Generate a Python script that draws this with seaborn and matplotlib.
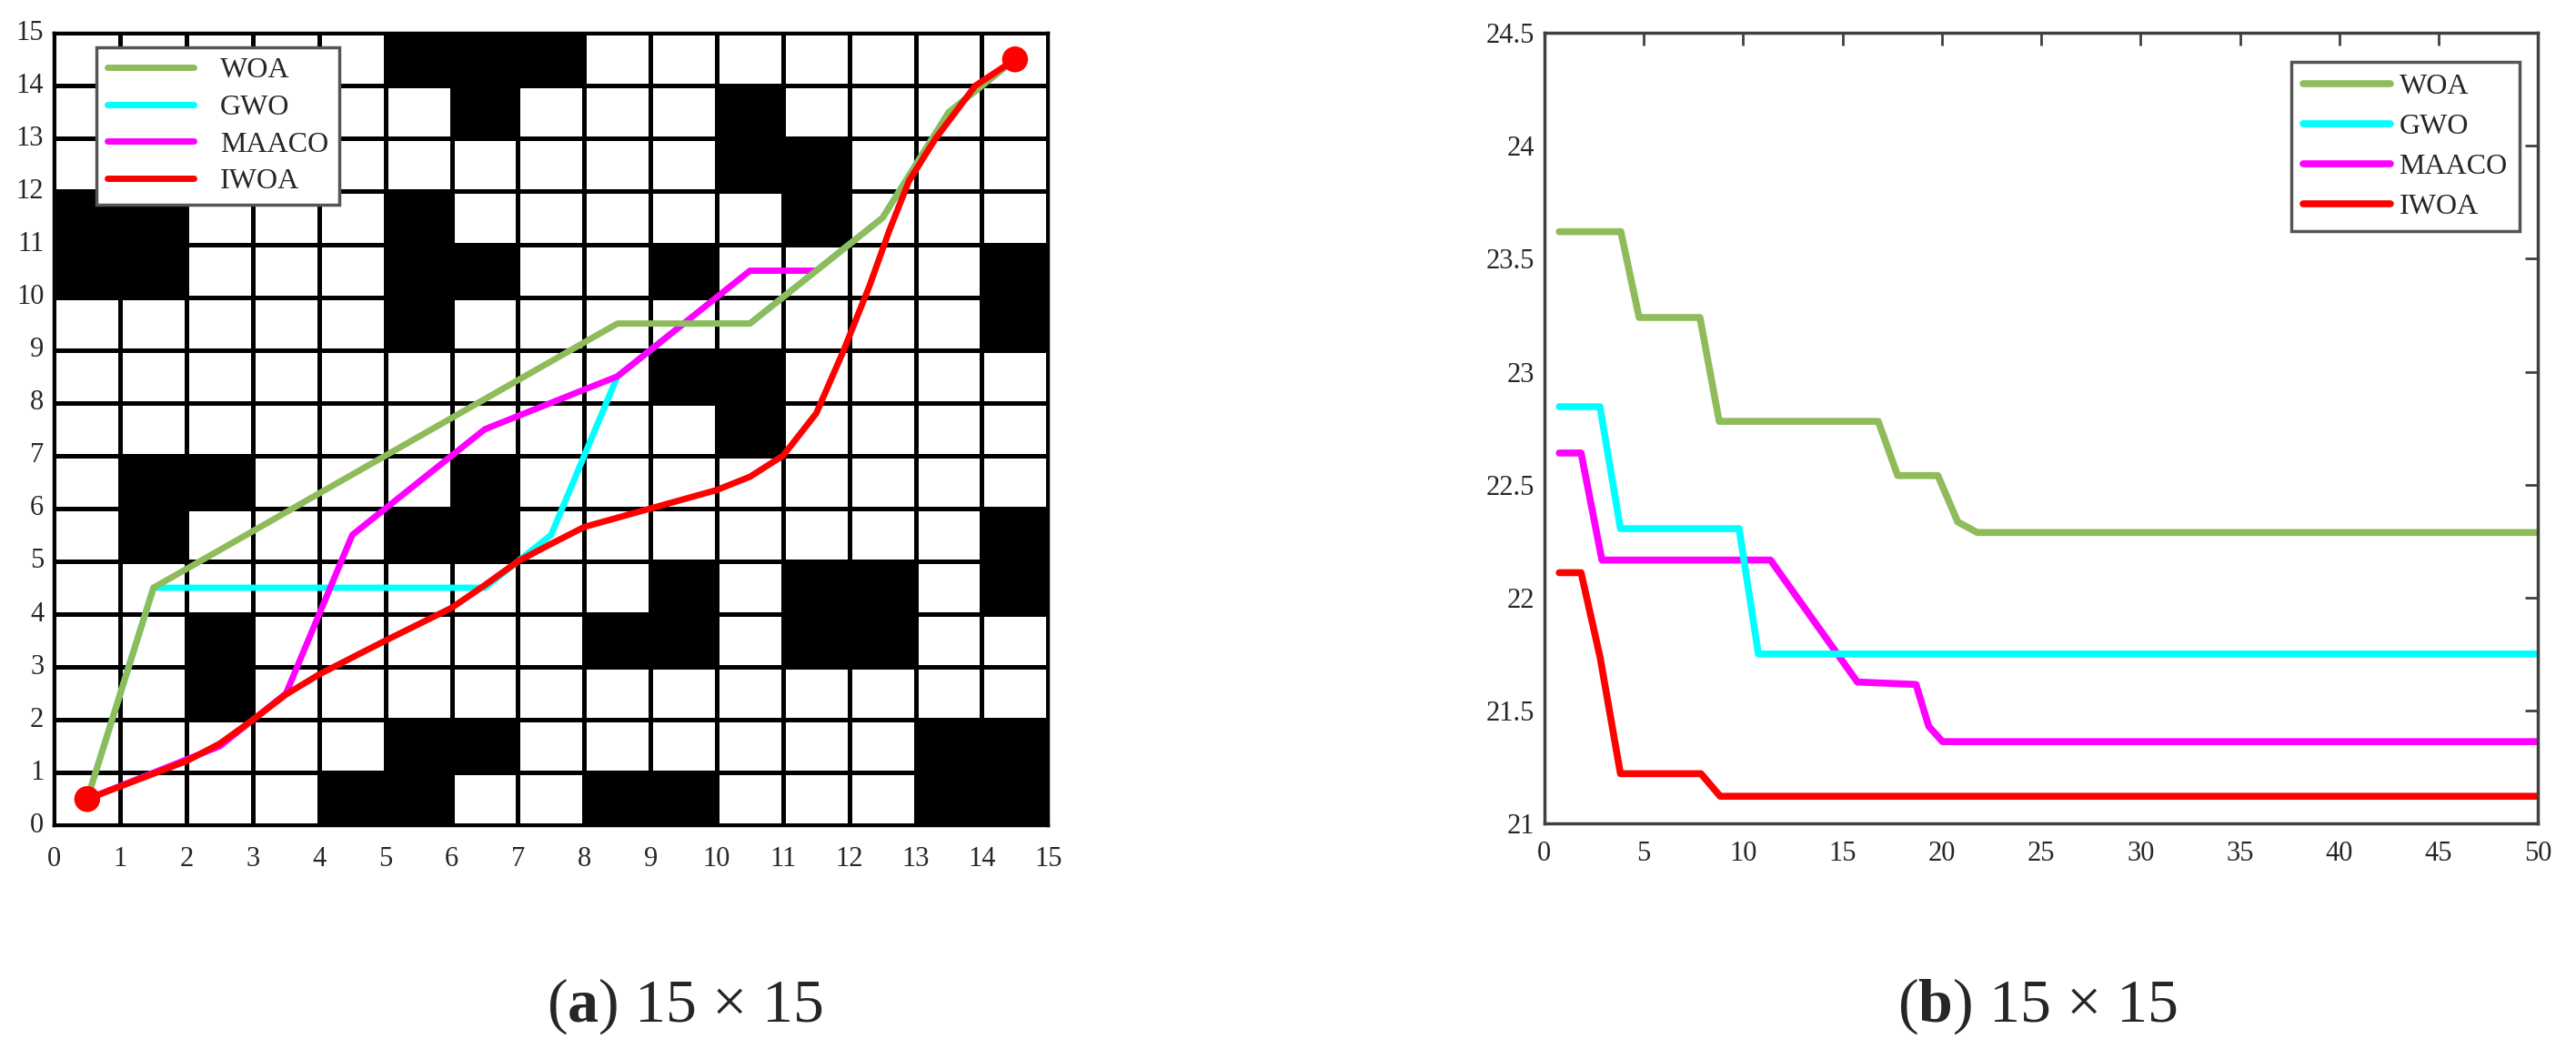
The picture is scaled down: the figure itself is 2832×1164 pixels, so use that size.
import numpy as np
import matplotlib
matplotlib.use("Agg")
import matplotlib.pyplot as plt
from matplotlib.colors import ListedColormap
import seaborn as sns

# ---- (a) 15x15 grid map: black cells as (col, row), row 0 at bottom
obstacles = [
    (5, 14), (6, 14), (7, 14),
    (6, 13), (10, 13),
    (10, 12), (11, 12),
    (0, 11), (1, 11), (5, 11), (11, 11),
    (0, 10), (1, 10), (5, 10), (6, 10), (9, 10), (14, 10),
    (5, 9), (14, 9),
    (9, 8), (10, 8),
    (10, 7),
    (1, 6), (2, 6), (6, 6),
    (1, 5), (5, 5), (6, 5), (14, 5),
    (9, 4), (11, 4), (12, 4), (14, 4),
    (2, 3), (8, 3), (9, 3), (11, 3), (12, 3),
    (2, 2),
    (5, 1), (6, 1), (13, 1), (14, 1),
    (4, 0), (5, 0), (8, 0), (9, 0), (13, 0), (14, 0),
]

woa_path_x = [0.5, 1.5, 8.5, 10.5, 12.5, 13.5, 14.5]
woa_path_y = [0.5, 4.5, 9.5, 9.5, 11.5, 13.5, 14.5]
gwo_path_x = [0.5, 1.5, 6.5, 7.5, 8.5, 9.5, 10.5, 11.5, 12.5, 13.5, 14.5]
gwo_path_y = [0.5, 4.5, 4.5, 5.5, 8.5, 9.5, 9.5, 10.5, 11.5, 13.5, 14.5]
maaco_path_x = [0.5, 2.5, 3.5, 4.5, 6.5, 8.5, 10.5, 11.5]
maaco_path_y = [0.5, 1.5, 2.5, 5.5, 7.5, 8.5, 10.5, 10.5]
iwoa_path_x = [0.5, 1, 2, 2.5, 3, 3.5, 4, 5, 6, 6.5, 7, 7.5, 8, 9, 10, 10.5,
               11, 11.5, 11.9, 12.3, 12.6, 12.9, 13.3, 13.9, 14.5]
iwoa_path_y = [0.5, 0.74, 1.22, 1.55, 2.0, 2.48, 2.86, 3.5, 4.12, 4.55, 5.0,
               5.33, 5.65, 6.0, 6.35, 6.6, 7.0, 7.8, 8.95, 10.2, 11.25, 12.2,
               13.0, 14.0, 14.5]
start_end_x = [0.5, 14.5]
start_end_y = [0.5, 14.5]

# ---- (b) convergence curves (vertices)
woa_it = [0.75, 3.85, 4.77, 7.83, 8.8, 16.8, 17.78, 19.8, 20.8, 21.78, 50]
woa_len = [23.62, 23.62, 23.24, 23.24, 22.78, 22.78, 22.54, 22.54, 22.335, 22.288, 22.288]
gwo_it = [0.75, 2.8, 3.83, 9.8, 10.77, 50]
gwo_len = [22.845, 22.845, 22.305, 22.305, 21.75, 21.75]
maaco_it = [0.75, 1.85, 2.9, 11.38, 15.75, 18.7, 19.34, 20.03, 50]
maaco_len = [22.64, 22.64, 22.166, 22.166, 21.626, 21.615, 21.43, 21.362, 21.362]
iwoa_it = [0.75, 1.85, 2.81, 3.83, 7.88, 8.85, 50]
iwoa_len = [22.11, 22.11, 21.734, 21.22, 21.22, 21.12, 21.12]

names = ["WOA", "GWO", "MAACO", "IWOA"]
colors = {"WOA": "#8fbb5a", "GWO": "#00ffff", "MAACO": "#ff00ff", "IWOA": "#ff0000"}

sns.set_style("white")
plt.rcParams["font.family"] = ["Liberation Serif", "DejaVu Serif"]
plt.rcParams["mathtext.fontset"] = "custom"
plt.rcParams["mathtext.rm"] = "Liberation Serif"
plt.rcParams["mathtext.bf"] = "Liberation Serif:bold"

fig = plt.figure(figsize=(28.32, 11.64), dpi=100)
ax1 = fig.add_axes([0.021, 0.2205, 0.3859, 0.7484])
ax2 = fig.add_axes([0.5995, 0.2225, 0.3858, 0.7464])

# left: map
grid = np.zeros((15, 15))
for c, r in obstacles:
    grid[r, c] = 1
sns.heatmap(grid, cmap=ListedColormap(["white", "black"]), vmin=0, vmax=1,
            linewidths=2.5, linecolor="black", cbar=False, ax=ax1)
ax1.set_ylim(0, 15)
ax1.set_xlim(0, 15)

# drawing order: GWO, MAACO, WOA, IWOA
paths = [("GWO", gwo_path_x, gwo_path_y), ("MAACO", maaco_path_x, maaco_path_y),
         ("WOA", woa_path_x, woa_path_y), ("IWOA", iwoa_path_x, iwoa_path_y)]
h1 = {}
for z, (nm, px, py) in enumerate(paths):
    sns.lineplot(x=px, y=py, sort=False, estimator=None, color=colors[nm],
                 linewidth=5, ax=ax1, zorder=3 + z)
    h1[nm] = ax1.lines[-1]
sns.scatterplot(x=start_end_x, y=start_end_y, s=420, color="#ff0000",
                edgecolor="none", ax=ax1, zorder=8)

leg1 = ax1.legend([h1[n] for n in names], names, loc="upper left",
                  bbox_to_anchor=(0.043, 0.982), borderaxespad=0, fontsize=23,
                  handlelength=3.0, handletextpad=0.9, labelspacing=0.35,
                  fancybox=False, framealpha=1, edgecolor="#555555", borderpad=0.35)
leg1.get_frame().set_linewidth(2.5)
leg1.set_zorder(10)

ax1.set_xticks(range(16))
ax1.set_xticklabels([str(v) for v in range(16)], rotation=0)
ax1.set_yticks(range(16))
ax1.set_yticklabels([str(v) for v in range(16)], rotation=0)
ax1.tick_params(axis="x", length=0, pad=16, labelsize=22)
ax1.tick_params(axis="y", length=0, pad=8, labelsize=22)
ax1.set_xlabel("")
ax1.set_ylabel("")
for sp in ax1.spines.values():
    sp.set_visible(True)
    sp.set_color("black")
    sp.set_linewidth(2.5)

# right: convergence
series = [("WOA", woa_it, woa_len), ("MAACO", maaco_it, maaco_len),
          ("GWO", gwo_it, gwo_len), ("IWOA", iwoa_it, iwoa_len)]
h2 = {}
for nm, sx, sy in series:
    sns.lineplot(x=sx, y=sy, sort=False, estimator=None, color=colors[nm],
                 linewidth=5.5, ax=ax2)
    h2[nm] = ax2.lines[-1]
leg2 = ax2.legend([h2[n] for n in names], names, loc="upper right",
                  bbox_to_anchor=(0.981, 0.963), borderaxespad=0, fontsize=23,
                  handlelength=3.0, handletextpad=0.3, labelspacing=0.45,
                  fancybox=False, framealpha=1, edgecolor="#555555", borderpad=0.4)
leg2.get_frame().set_linewidth(2.5)

ax2.set_xlim(0, 50)
ax2.set_ylim(21, 24.5)
ax2.set_xticks(range(0, 51, 5))
ax2.set_yticks([21, 21.5, 22, 22.5, 23, 23.5, 24, 24.5])
ax2.set_yticklabels(["21", "21.5", "22", "22.5", "23", "23.5", "24", "24.5"])
ax2.tick_params(direction="in", top=True, right=True, length=10, width=2,
                color="#404040", labelsize=22)
ax2.tick_params(axis="x", pad=14)
ax2.tick_params(axis="y", pad=8)
for sp in ax2.spines.values():
    sp.set_color("#404040")
    sp.set_linewidth(2.5)

fig.text(0.266, 0.05, r"($\mathbf{a}$) 15 × 15", ha="center", va="center", fontsize=49)
fig.text(0.791, 0.05, r"($\mathbf{b}$) 15 × 15", ha="center", va="center", fontsize=49)

fig.savefig("out.png", dpi=100)
